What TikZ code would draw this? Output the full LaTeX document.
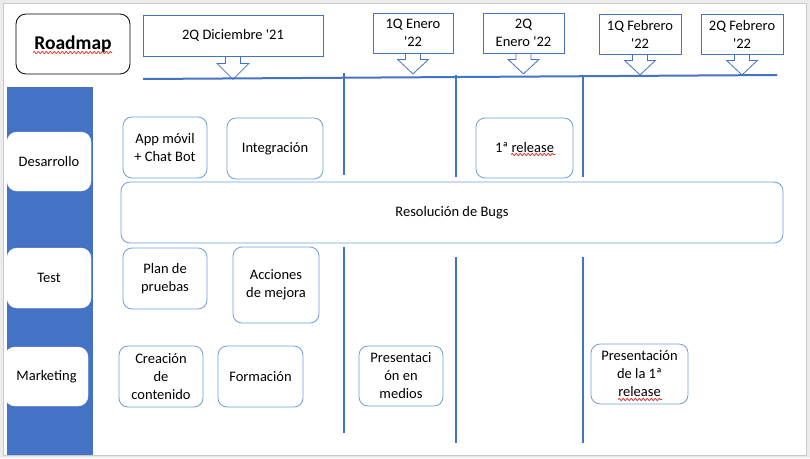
\documentclass[tikz,border=0pt]{standalone}
\usepackage{fontspec}
\setmainfont{Carlito}
\usetikzlibrary{decorations.pathmorphing}
\definecolor{lineblue}{HTML}{4472C4}
\definecolor{boxblue}{HTML}{6E9FD8}
\definecolor{framegray}{HTML}{C9C9C9}
\definecolor{outergray}{HTML}{ECECEC}
\definecolor{squiggle}{HTML}{E52424}
\tikzset{
  task/.style={draw=boxblue, fill=white, line width=0.8pt, rounded corners=9pt,
    align=center, inner sep=0pt},
  lane/.style={draw=white, fill=white, rounded corners=10pt, align=center, inner sep=0pt},
  datebox/.style={draw=lineblue, fill=white, line width=0.8pt, align=center, inner sep=0pt},
  datearrow/.style={draw=lineblue, line width=0.8pt, line join=miter},
  timeline/.style={draw=lineblue, line width=2pt},
  spell/.style={draw=squiggle, line width=0.7pt, decorate,
    decoration={snake, amplitude=1.2pt, segment length=4pt}}
}
\begin{document}
\begin{tikzpicture}[x=1pt,y=-1pt]
                \useasboundingbox (0,0) rectangle (810,458);
                {\fontsize{14.5}{18}\selectfont

                % Drawing frame
                \fill [outergray] (0,0) rectangle (810,458);%
                \draw [framegray, fill=white, line width=0.8pt] (3.5,3.5) rectangle (806,455.5);%
                \fill [lineblue] (6.5,87) rectangle (93,455);%

                % Drawing timeline
                \coordinate (tl-start) at (143,79);%
                \coordinate (tl-end) at (777,75);%
                \draw [timeline] (tl-start) -- (tl-end);%

                % Drawing line A
                \draw [timeline] (344,73) -- (344,175);%
                \draw [timeline] (344,247) -- (344,433);%

                % Drawing line B
                \draw [timeline] (455.5,75) -- (455.5,177);%
                \draw [timeline] (455.5,257) -- (455.5,443);%

                % Drawing line C
                \draw [timeline] (583,75) -- (583,177);%
                \draw [timeline] (583,257) -- (583,443);%

                % Marking roadmap title
                \node [draw=black, fill=white, line width=0.8pt, rounded corners=10pt,
                  minimum width=114pt, minimum height=60pt, inner sep=0pt,
                  font=\fontsize{19.5}{22}\selectfont\bfseries] (roadmap) at (73,44) {Roadmap};%
                \draw [spell] (33,52.5) -- (112,52.5);%

                % Marking date 2Q Diciembre '21
                \node [datebox, minimum width=180pt, minimum height=41pt] (dic2) at (233,35.5)
                  {2Q Diciembre \textquotesingle21};%
                \draw [datearrow] ([xshift=-7.5pt]dic2.south) -- ++(0,7) -- ++(-8.5,0)
                  -- ++(16,16) -- ++(16,-16) -- ++(-8.5,0) -- ++(0,-7);%

                % Marking date 1Q Enero '22
                \node [datebox, minimum width=80pt, minimum height=40pt] (ene1) at (413,33)
                  {1Q Enero\\\textquotesingle22};%
                \draw [datearrow] ([xshift=-7.5pt]ene1.south) -- ++(0,6) -- ++(-8,0)
                  -- ++(15.5,14.5) -- ++(15.5,-14.5) -- ++(-8,0) -- ++(0,-6);%

                % Marking date 2Q Enero '22
                \node [datebox, minimum width=81pt, minimum height=40pt] (ene2) at (523.5,33)
                  {2Q\\Enero \textquotesingle22};%
                \draw [datearrow] ([xshift=-7.5pt]ene2.south) -- ++(0,6) -- ++(-8,0)
                  -- ++(15.5,14.5) -- ++(15.5,-14.5) -- ++(-8,0) -- ++(0,-6);%

                % Marking date 1Q Febrero '22
                \node [datebox, minimum width=82pt, minimum height=40pt] (feb1) at (640,34)
                  {1Q Febrero\\\textquotesingle22};%
                \draw [datearrow] ([xshift=-7.5pt]feb1.south) -- ++(0,6) -- ++(-8,0)
                  -- ++(15.5,14.5) -- ++(15.5,-14.5) -- ++(-8,0) -- ++(0,-6);%

                % Marking date 2Q Febrero '22
                \node [datebox, minimum width=82pt, minimum height=40pt] (feb2) at (742,34)
                  {2Q Febrero\\\textquotesingle22};%
                \draw [datearrow] ([xshift=-7.5pt]feb2.south) -- ++(0,6) -- ++(-8,0)
                  -- ++(15.5,14.5) -- ++(15.5,-14.5) -- ++(-8,0) -- ++(0,-6);%

                % Marking lanes
                \node [lane, minimum width=84pt, minimum height=59pt] (desarrollo) at (49,161.5) {Desarrollo};%
                \node [lane, minimum width=84pt, minimum height=60pt] (test) at (49,278) {Test};%
                \node [lane, minimum width=83pt, minimum height=59pt] (marketing) at (46.5,376.5) {Marketing};%

                % Marking tasks Desarrollo
                \node [task, minimum width=84pt, minimum height=61pt] (app) at (165,147.5) {App móvil\\+ Chat Bot};%
                \node [task, minimum width=96pt, minimum height=61pt] (integracion) at (275,148.5) {Integración};%
                \node [task, minimum width=97pt, minimum height=60pt] (release) at (524.5,148) {1ª release};%
                \draw [spell] (511,154.5) -- (555,154.5);%
                \node [task, minimum width=662pt, minimum height=61pt] (bugs) at (452,212.5) {Resolución de Bugs};%

                % Marking tasks Test
                \node [task, minimum width=84pt, minimum height=61pt] (plan) at (165,278.5) {Plan de\\pruebas};%
                \node [task, minimum width=86pt, minimum height=76pt] (acciones) at (276,285) {Acciones\\de mejora};%

                % Marking tasks Marketing
                \node [task, minimum width=84pt, minimum height=61pt] (creacion) at (161,376.5) {Creación\\de\\contenido};%
                \node [task, minimum width=85pt, minimum height=61pt] (formacion) at (260.5,376.5) {Formación};%
                \node [task, minimum width=84pt, minimum height=60pt] (medios) at (401,376) {Presentaci\\ón en\\medios};%
                \node [task, minimum width=97pt, minimum height=60pt] (presrelease) at (639.5,374) {Presentación\\de la 1ª\\release};%
                \draw [spell] (618,399.5) -- (662,399.5);%
                }
\end{tikzpicture}
\end{document}
